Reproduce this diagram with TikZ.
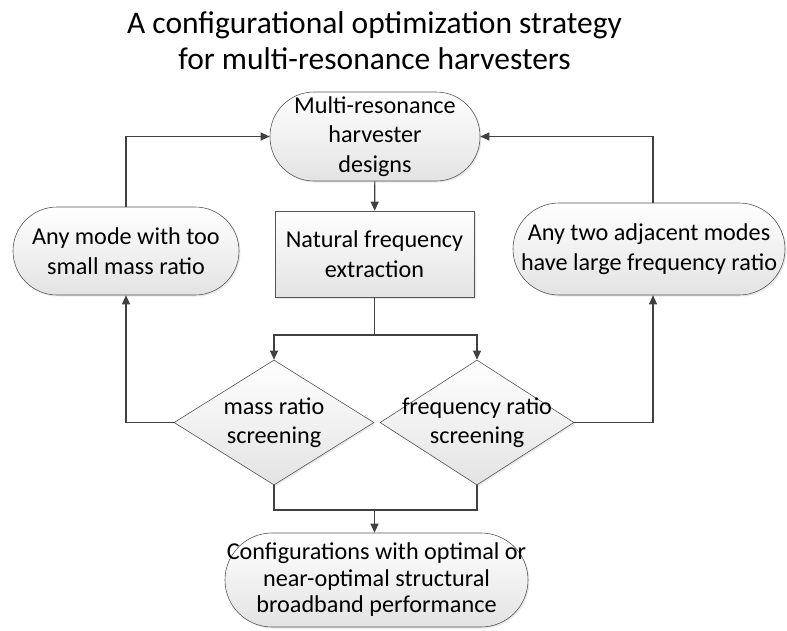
\documentclass[tikz,border=0pt]{standalone}
\usepackage{fontspec}
\setmainfont{Carlito}
\usetikzlibrary{shapes.geometric,shadows,arrows.meta}
\definecolor{linec}{HTML}{404040}
\definecolor{edgec}{HTML}{555555}
\begin{document}
\begin{tikzpicture}[x=1pt,y=-1pt,
  box/.style={draw=edgec, line width=0.6pt, top color=white, bottom color=black!11,
    drop shadow={opacity=0.18,shadow xshift=1.5pt,shadow yshift=-1.5pt},
    align=center, inner sep=0pt, font=\fontsize{24.2}{29.5}\selectfont},
  term/.style={box, rounded corners=#1},
  diam/.style={box, diamond},
  txt/.style={align=center, inner sep=0pt, font=\fontsize{24.2}{29}\selectfont},
  ttl/.style={anchor=base, inner sep=0pt, font=\fontsize{31.5}{36}\selectfont},
  conn/.style={draw=linec, line width=1.1pt},
  arr/.style={conn, -{Triangle[length=9pt,width=8pt]}}
]
\useasboundingbox (0,0) rectangle (787,630);

\node[ttl] (title1) at (374.5,33) {A configurational optimization strategy};
\node[ttl] (title2) at (374.5,69) {for multi-resonance harvesters};

\node[term=44pt, minimum width=210pt, minimum height=89pt] (top) at (375,136.5)
  {Multi-resonance\\harvester\\designs};

\node[box, minimum width=199pt, minimum height=86pt, rounded corners=0pt] (nfe) at (374.5,254)
  {Natural frequency\\extraction};

\node[term=44pt, minimum width=226pt, minimum height=88pt] (left) at (126,251)
  {Any mode with too\\small mass ratio};

\node[term=46pt, minimum width=272pt, minimum height=92pt] (right) at (649,249)
  {Any two adjacent modes\\have large frequency ratio};

\node[diam, minimum width=200pt, minimum height=125pt] (dm) at (274,422.5) {};
\node[txt] (dmt) at (dm.center) {mass ratio\\screening};
\node[diam, minimum width=194pt, minimum height=125pt] (df) at (477,422.5) {};
\node[txt] (dft) at (df.center) {frequency ratio\\screening};

\node[term=47pt, minimum width=303pt, minimum height=94pt,
      font=\fontsize{24.2}{26.5}\selectfont] (bot) at (376.5,580)
  {Configurations with optimal or\\near-optimal structural\\broadband performance};

\coordinate (split) at (374.5,335);
\coordinate (join) at (374.5,510);

% top -> extraction
\draw[arr] (top) -- (nfe);
% extraction -> diamonds
\draw[conn] (nfe.south) -- (split);
\draw[arr] (split) -| (dm.north);
\draw[arr] (split) -| (df.north);
% diamonds -> bottom
\draw[conn] (dm.south) |- (join);
\draw[conn] (df.south) |- (join);
\draw[arr] (join) -- (join |- bot.north);
% left loop
\draw[arr] (dm.west) -| (left.south);
\draw[arr] (left.north) |- (top.west);
% right loop
\draw[arr] (df.east) -| ([xshift=4pt]right.south);
\draw[arr] ([xshift=4pt]right.north) |- (top.east);
\end{tikzpicture}
\end{document}
